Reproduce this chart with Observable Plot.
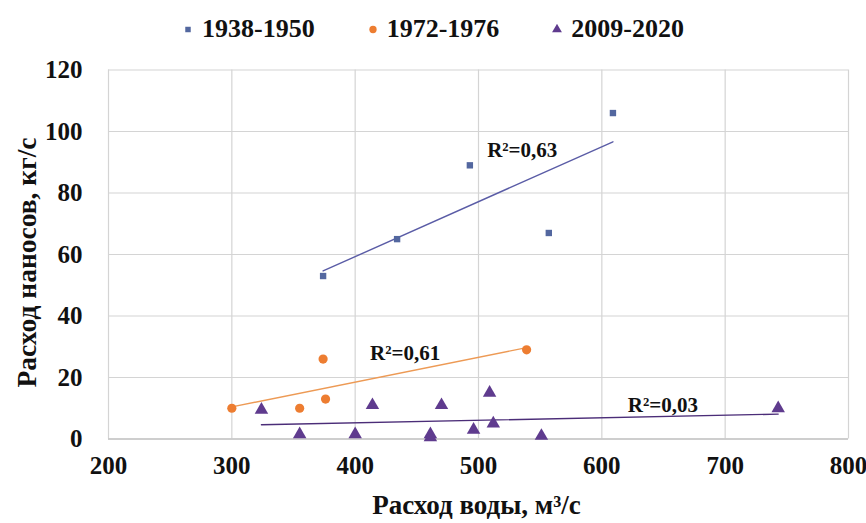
<!DOCTYPE html>
<html>
<head>
<meta charset="utf-8">
<script src="https://cdn.jsdelivr.net/npm/d3@7"></script>
<script src="https://cdn.jsdelivr.net/npm/@observablehq/plot@0.6"></script>
<style>
  html, body { margin: 0; padding: 0; background: #fff; }
  body { width: 866px; height: 523px; overflow: hidden; }
  #legend { height: 52px; display: flex; justify-content: flex-start; align-items: center; gap: 53px; font-weight: bold; font-size: 26px; color: #111; padding-left: 183px; padding-top: 6px; box-sizing: border-box; }
  #legend .item { display: flex; align-items: center; gap: 9px; }
  #legend svg { display: block; }
</style>
</head>
<body>
<div id="legend"></div>
<div id="chart"></div>
<script>
// ---- data ----
const groups = ["1938-1950", "1972-1976", "2009-2020"];
const water1938 = [374, 434, 493, 557, 609];
const sediment1938 = [53, 65, 89, 67, 106];
const water1972 = [300, 355, 374, 376, 539];
const sediment1972 = [10, 10, 26, 13, 29];
const water2009 = [324, 355, 400, 414, 461, 461, 470, 496, 509, 512, 551, 743];
const sediment2009 = [9.5, 1.5, 1.5, 11, 1.5, 0.5, 11, 3, 15, 5, 1, 10];
const r2Labels = ["R²=0,63", "R²=0,61", "R²=0,03"];
const r2LabelX = [507, 412, 621];
const r2LabelY = [94, 28, 11];
const xTicks = [200, 300, 400, 500, 600, 700, 800];
const yTicks = [0, 20, 40, 60, 80, 100, 120];
const xTitle = "Расход воды, м³/с";
const yTitle = "Расход наносов, кг/с";

// ---- styling ----
const serifFont = "'Liberation Serif', serif";
const colors = ["#53679f", "#ed7d31", "#5f3b8e"];
const lineColors = ["#5a5ca6", "#ed9a55", "#4b2d78"];
const symbols = ["square", "circle", "triangle"];
const radii = [3.6, 4.6, 5];

document.body.style.fontFamily = serifFont;

const series = [
  {x: water1938, y: sediment1938},
  {x: water1972, y: sediment1972},
  {x: water2009, y: sediment2009}
].map((s, i) => s.x.map((v, j) => ({group: groups[i], water: v, sediment: s.y[j]})));

const labels = r2Labels.map((t, i) => ({text: t, x: r2LabelX[i], y: r2LabelY[i]}));

// ---- legend ----
const legend = document.getElementById("legend");
legend.style.fontFamily = serifFont;
groups.forEach((g, i) => {
  const item = document.createElement("div");
  item.className = "item";
  const sym = d3.create("svg").attr("width", 10).attr("height", 10);
  sym.append("path")
    .attr("transform", "translate(5,5.5)")
    .attr("d", d3.symbol(i === 0 ? d3.symbolSquare : i === 1 ? d3.symbolCircle : d3.symbolTriangle, i === 0 ? 30 : 42)())
    .attr("fill", colors[i]);
  item.appendChild(sym.node());
  const span = document.createElement("span");
  span.style.fontFamily = serifFont;
  span.textContent = g;
  item.appendChild(span);
  legend.appendChild(item);
});

// ---- chart ----
const marks = [
  Plot.gridX(xTicks, {stroke: "#d4d4d4", strokeOpacity: 1, strokeWidth: 1.2}),
  Plot.gridY(yTicks, {stroke: "#d4d4d4", strokeOpacity: 1, strokeWidth: 1.2}),
  Plot.ruleY([0], {stroke: "#c4c4c4", strokeWidth: 1.5}),
  Plot.axisX(xTicks, {tickSize: 0, tickPadding: 17, fontSize: 25, fontWeight: "bold", label: null}),
  Plot.axisY(yTicks, {tickSize: 0, tickPadding: 26, fontSize: 25, fontWeight: "bold", label: null}),
];
series.forEach((data, i) => {
  marks.push(Plot.linearRegressionY(data, {x: "water", y: "sediment", stroke: lineColors[i], strokeWidth: 1.4, ci: 0}));
});
series.forEach((data, i) => {
  marks.push(Plot.dot(data, {x: "water", y: "sediment", symbol: () => symbols[i], r: radii[i], fill: colors[i], stroke: "none"}));
});
marks.push(Plot.text(labels, {x: "x", y: "y", text: "text", textAnchor: "start", fontSize: 21, fontWeight: "bold", fill: "#111"}));
marks.push(Plot.text([xTitle], {frameAnchor: "bottom", textAnchor: "middle", lineAnchor: "middle", dy: 66, dx: -2, fontSize: 27, fontWeight: "bold", fill: "#111"}));
marks.push(Plot.text([yTitle], {frameAnchor: "left", textAnchor: "middle", lineAnchor: "middle", rotate: -90, dx: -81, dy: 8, fontSize: 27.5, fontWeight: "bold", fill: "#111"}));

const chart = Plot.plot({
  width: 866,
  height: 471,
  marginTop: 17.5,
  marginBottom: 84.5,
  marginLeft: 108,
  marginRight: 18,
  style: `font-family: ${serifFont}; color: #111; background: #fff; overflow: visible;`,
  x: {domain: [200, 800]},
  y: {domain: [0, 120]},
  symbol: {type: "identity"},
  marks
});
chart.style.fontFamily = serifFont;
chart.querySelectorAll("g, text").forEach(el => {
  el.setAttribute("font-family", serifFont);
  el.style.fontFamily = serifFont;
});
document.getElementById("chart").appendChild(chart);
</script>
</body>
</html>
